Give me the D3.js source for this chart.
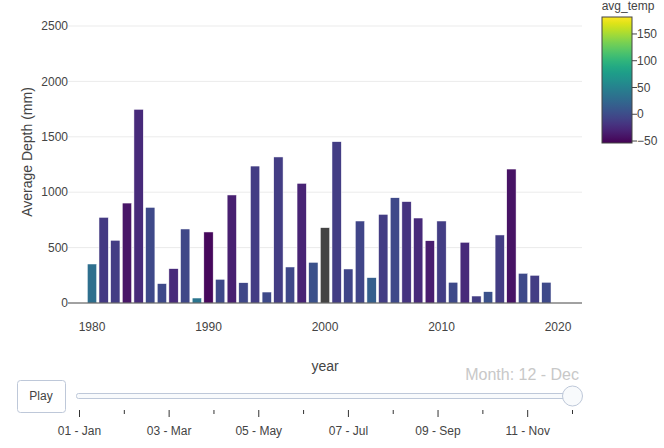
<!DOCTYPE html>
<html><head><meta charset="utf-8">
<script src="https://cdn.jsdelivr.net/npm/d3@7"></script>
<style>body{margin:0;background:#fff}svg{display:block;font-family:"Liberation Sans",Arial,sans-serif}</style>
</head><body><svg id="c" width="664" height="448"></svg>
<script>
const years = d3.range(1980, 2020);
const depths = [352,773,566,902,1748,863,175,310,668,45,641,214,975,183,1236,99,1318,325,1080,367,680,1456,307,740,229,800,950,915,767,562,740,187,548,63,102,614,1209,268,250,187];
const temps = [31,-14,-12,-40,-26,-2,-2,-26,-4,38,-49,-2,-33,-4,-12,-2,-12,-3,-30,5,null,-12,-5,-5,17,-12,-2,-18,-26,-35,-12,-2,-26,-12,5,-12,-42,-2,-12,-2];
const yTicks = [0,500,1000,1500,2000,2500];
const xTicks = [1980,1990,2000,2010,2020];
const cbTicks = [-50,0,50,100,150];
const monthLabels = ["01 - Jan","02 - Feb","03 - Mar","04 - Apr","05 - May","06 - Jun","07 - Jul","08 - Aug","09 - Sep","10 - Oct","11 - Nov","12 - Dec"];
const currentMonth = 11;

const svg = d3.select("#c");
const L = 68, R = 582, T = 1, B = 303;
const x = d3.scaleLinear().domain([1977.94, 2022.06]).range([L, R]);
const y = d3.scaleLinear().domain([0, 2500]).range([B, 26]);
const cmin = -53.7, cmax = 181.7;
const color = d3.scaleSequential(d3.interpolateViridis).domain([cmin, cmax]);

// grid
svg.append("g").selectAll("line").data(yTicks.filter(d=>d>0)).join("line")
  .attr("x1", L).attr("x2", R).attr("y1", d=>y(d)).attr("y2", d=>y(d))
  .attr("stroke", "#ebebeb").attr("stroke-width", 1);

// bars
const bw = (x(1) - x(0)) * 0.8;
svg.append("g").selectAll("rect").data(years).join("rect")
  .attr("x", (d)=>x(d) - bw/2).attr("width", bw)
  .attr("y", (d,i)=>y(depths[i])).attr("height", (d,i)=>B - y(depths[i]))
  .attr("fill", (d,i)=>temps[i]===null ? "#444444" : color(temps[i]))
  .attr("stroke", "#ffffff").attr("stroke-width", 0.5);

// zero line
svg.append("line").attr("x1", L).attr("x2", R).attr("y1", y(0)).attr("y2", y(0))
  .attr("stroke", "#444").attr("stroke-width", 1);

// y axis labels
svg.append("g").selectAll("text").data(yTicks).join("text")
  .attr("x", L).attr("y", d=>y(d)).attr("dy", "0.35em").attr("text-anchor", "end")
  .attr("font-size", 12).attr("fill", "#444").text(d=>d);
// x axis labels
svg.append("g").selectAll("text").data(xTicks).join("text")
  .attr("x", d=>x(d)).attr("y", 331).attr("text-anchor", "middle")
  .attr("font-size", 12).attr("fill", "#444").text(d=>d);

svg.append("text").attr("transform", "translate(32,152) rotate(-90)")
  .attr("text-anchor", "middle").attr("font-size", 14).attr("fill", "#444").text("Average Depth (mm)");
svg.append("text").attr("x", 325).attr("y", 371).attr("text-anchor", "middle")
  .attr("font-size", 14).attr("fill", "#444").text("year");

// colorbar
const cbX = 602, cbW = 30, cbT = 17, cbB = 143;
const cy = d3.scaleLinear().domain([cmin, cmax]).range([cbB, cbT]);
const defs = svg.append("defs");
const grad = defs.append("linearGradient").attr("id", "vg").attr("x1", 0).attr("x2", 0).attr("y1", 1).attr("y2", 0);
d3.range(0, 1.0001, 0.05).forEach(t => grad.append("stop").attr("offset", t).attr("stop-color", d3.interpolateViridis(t)));
svg.append("rect").attr("x", cbX).attr("y", cbT).attr("width", cbW).attr("height", cbB - cbT)
  .attr("fill", "url(#vg)").attr("stroke", "#444").attr("stroke-width", 1);
const cbg = svg.append("g").selectAll("g").data(cbTicks).join("g").attr("transform", d=>`translate(${cbX+cbW},${cy(d)})`);
cbg.append("line").attr("x1", 0).attr("x2", 5).attr("stroke", "#444");
cbg.append("text").attr("x", 5).attr("dy", "0.35em").attr("font-size", 12).attr("fill", "#444")
  .text(d => d < 0 ? "\u2212" + Math.abs(d) : d);
svg.append("text").attr("x", 628).attr("y", 10).attr("text-anchor", "middle")
  .attr("font-size", 12).attr("fill", "#444").text("avg_temp");

// play button
svg.append("rect").attr("x", 17.5).attr("y", 380.5).attr("width", 48).attr("height", 32).attr("rx", 3)
  .attr("fill", "#fff").attr("stroke", "#bec8d9").attr("stroke-width", 1);
svg.append("text").attr("x", 41).attr("y", 400).attr("text-anchor", "middle")
  .attr("font-size", 12).attr("fill", "#444").text("Play");

// slider
const s = d3.scalePoint().domain(monthLabels).range([79.5, 572.5]);
svg.append("rect").attr("x", 76.5).attr("y", 393.5).attr("width", 504).attr("height", 5).attr("rx", 2)
  .attr("fill", "#f8fafc").attr("stroke", "#bec8d9").attr("stroke-width", 1);
const tg = svg.append("g").selectAll("line").data(monthLabels).join("line")
  .attr("x1", d=>s(d)).attr("x2", d=>s(d)).attr("y1", 410).attr("y2", (d,i)=> i%2===0 ? 417 : 414)
  .attr("stroke", "#333").attr("stroke-width", 1);
svg.append("g").selectAll("text").data(monthLabels.filter((d,i)=>i%2===0)).join("text")
  .attr("x", d=>s(d)).attr("y", 435).attr("text-anchor", "middle")
  .attr("font-size", 12).attr("fill", "#444").text(d=>d);
svg.append("circle").attr("cx", s(monthLabels[currentMonth])).attr("cy", 396).attr("r", 10)
  .attr("fill", "#f8fafc").attr("stroke", "#bec8d9").attr("stroke-width", 1);
svg.append("text").attr("x", 579).attr("y", 380).attr("text-anchor", "end")
  .attr("font-size", 16).attr("fill", "#c8c8c8").text("Month: " + monthLabels[currentMonth]);
</script></body></html>
